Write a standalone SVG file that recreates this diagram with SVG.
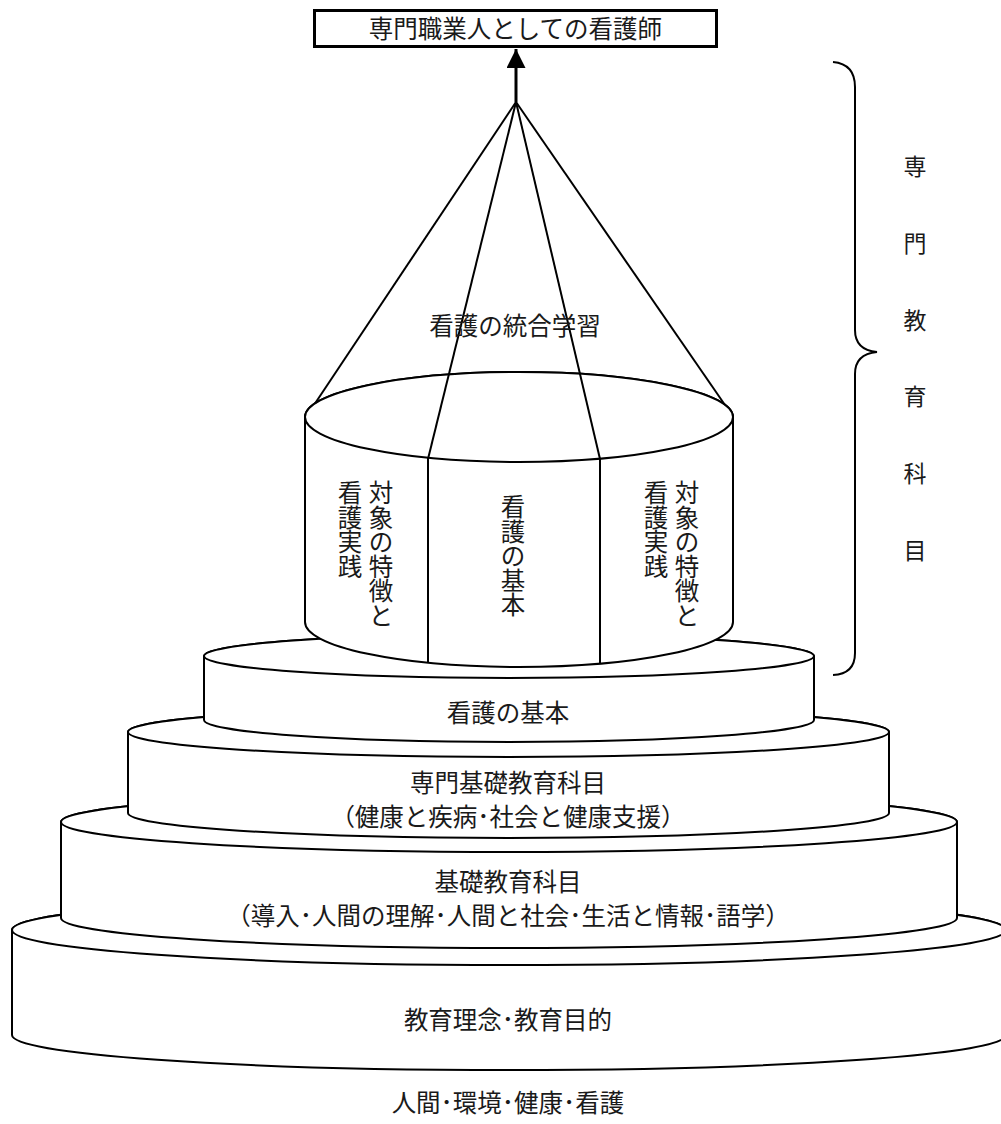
<svg xmlns="http://www.w3.org/2000/svg" width="1001" height="1124" viewBox="0 0 1001 1124">
<style>
  .ln{fill:none;stroke:#000;stroke-width:2}
  .sh{fill:#fff;stroke:#000;stroke-width:2}
  .t{font-family:"Noto Sans CJK JP","Noto Sans CJK SC",sans-serif;font-size:24.5px;fill:#1a1a1a;text-anchor:middle}
  .s{font-size:23px}
</style>
<defs>
  <marker id="ah" viewBox="0 0 20 20" refX="20" refY="10" markerWidth="20" markerHeight="19" markerUnits="userSpaceOnUse" orient="auto">
    <path d="M0,0 L20,10 L0,20 Z" fill="#000"/>
  </marker>
</defs>
<rect width="1001" height="1124" fill="#fff"/>

<g id="disc-base">
  <path class="sh" d="M12,930 V1035 A497,35 0 0 0 1006,1035 V930 A497,35 0 0 0 12,930 Z"/>
  <ellipse class="sh" cx="509" cy="930" rx="497" ry="35"/>
  <text class="t" x="508" y="1029">教育理念･教育目的</text>
</g>

<g id="disc-basic">
  <path class="sh" d="M61,822 V918 A448,30 0 0 0 957,918 V822 A448,30 0 0 0 61,822 Z"/>
  <ellipse class="sh" cx="509" cy="822" rx="448" ry="30"/>
  <text class="t" x="508" y="891">基礎教育科目</text>
  <text class="t" x="508" y="925">（導入･人間の理解･人間と社会･生活と情報･語学）</text>
</g>

<g id="disc-specialized-basic">
  <path class="sh" d="M128,732 V813 A380.5,25 0 0 0 889,813 V732 A380.5,25 0 0 0 128,732 Z"/>
  <ellipse class="sh" cx="508.5" cy="732" rx="380.5" ry="25"/>
  <text class="t" x="508" y="792">専門基礎教育科目</text>
  <text class="t" x="508" y="826">（健康と疾病･社会と健康支援）</text>
</g>

<g id="disc-nursing-basic">
  <path class="sh" d="M204,656 V720 A305,22 0 0 0 814,720 V656 A305,22 0 0 0 204,656 Z"/>
  <ellipse class="sh" cx="509" cy="656" rx="305" ry="22"/>
  <text class="t" x="508" y="722">看護の基本</text>
</g>

<g id="cylinder">
  <path class="sh" d="M305,417 V622 A214,45 0 0 0 733,622 V417 A214,45 0 0 0 305,417 Z"/>
  <ellipse class="sh" cx="519" cy="417" rx="214" ry="45"/>
  <line class="ln" x1="428" y1="458" x2="428" y2="663"/>
  <line class="ln" x1="600" y1="458" x2="600" y2="663"/>
</g>

<g id="col-left">
  <text class="t" x="381" y="502"><tspan x="381">対</tspan><tspan x="381" dy="24.5">象</tspan><tspan x="381" dy="24.5">の</tspan><tspan x="381" dy="24.5">特</tspan><tspan x="381" dy="24.5">徴</tspan><tspan x="381" dy="24.5">と</tspan></text>
  <text class="t" x="350" y="502"><tspan x="350">看</tspan><tspan x="350" dy="24.5">護</tspan><tspan x="350" dy="24.5">実</tspan><tspan x="350" dy="24.5">践</tspan></text>
</g>

<g id="col-center">
  <text class="t" x="513" y="516"><tspan x="513">看</tspan><tspan x="513" dy="24.5">護</tspan><tspan x="513" dy="24.5">の</tspan><tspan x="513" dy="24.5">基</tspan><tspan x="513" dy="24.5">本</tspan></text>
</g>

<g id="col-right">
  <text class="t" x="687" y="502"><tspan x="687">対</tspan><tspan x="687" dy="24.5">象</tspan><tspan x="687" dy="24.5">の</tspan><tspan x="687" dy="24.5">特</tspan><tspan x="687" dy="24.5">徴</tspan><tspan x="687" dy="24.5">と</tspan></text>
  <text class="t" x="656" y="502"><tspan x="656">看</tspan><tspan x="656" dy="24.5">護</tspan><tspan x="656" dy="24.5">実</tspan><tspan x="656" dy="24.5">践</tspan></text>
</g>

<g id="connectors">
  <line class="ln" x1="516" y1="102" x2="315" y2="403.5"/>
  <line class="ln" x1="516" y1="102" x2="725" y2="405"/>
  <line class="ln" x1="516" y1="102" x2="428" y2="459"/>
  <line class="ln" x1="516" y1="102" x2="600" y2="459"/>
  <line class="ln" style="stroke-width:3" x1="516" y1="102" x2="516" y2="49" marker-end="url(#ah)"/>
</g>

<g id="integration-label">
  <text class="t" x="515" y="335">看護の統合学習</text>
</g>

<g id="title">
  <rect x="314.5" y="10.5" width="402" height="36" fill="#fff" stroke="#000" stroke-width="3"/>
  <text class="t" x="515.5" y="38">専門職業人としての看護師</text>
</g>

<g id="brace">
  <path class="ln" d="M833,62 Q855,64 855,87 L855,330 Q855,350 877,352 Q855,354 855,374 L855,653 Q855,674 833,675"/>
  <text class="t s" x="915" y="175"><tspan x="915">専</tspan><tspan x="915" dy="76.8">門</tspan><tspan x="915" dy="76.8">教</tspan><tspan x="915" dy="76.8">育</tspan><tspan x="915" dy="76.8">科</tspan><tspan x="915" dy="76.8">目</tspan></text>
</g>

<g id="foundation-label">
  <text class="t" x="508" y="1112">人間･環境･健康･看護</text>
</g>
</svg>
